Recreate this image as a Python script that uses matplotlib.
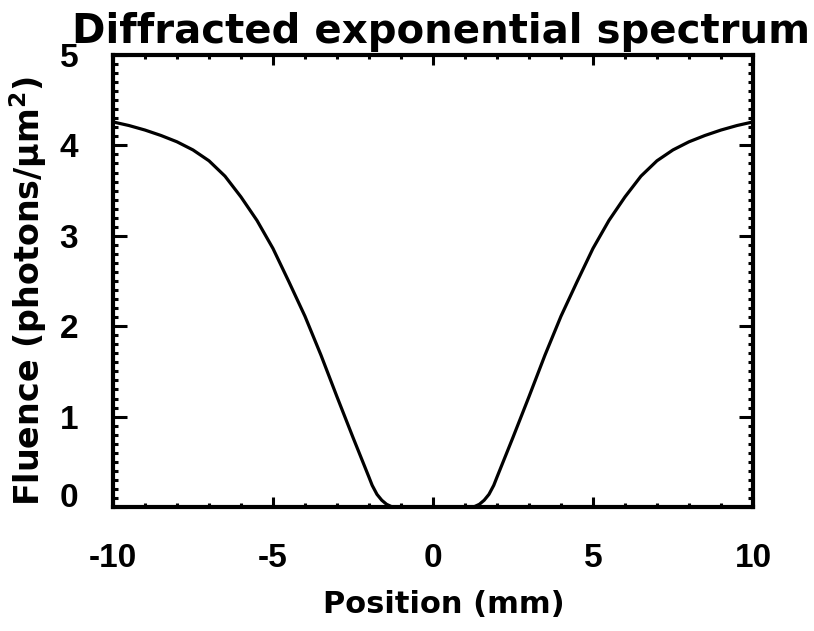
import matplotlib.pyplot as plt
from matplotlib.ticker import MultipleLocator

# Values
position = [-10.0, -9.5, -9.0, -8.5, -8.0, -7.5, -7.0, -6.5, -6.0, -5.5,
            -5.0, -4.5, -4.0, -3.5, -3.0, -2.5, -2.25, -2.0, -1.9, -1.75,
            -1.6, -1.45, -1.3, -1.2, 0.0, 1.2, 1.3, 1.45, 1.6, 1.75,
            1.9, 2.0, 2.25, 2.5, 3.0, 3.5, 4.0, 4.5, 5.0, 5.5,
            6.0, 6.5, 7.0, 7.5, 8.0, 8.5, 9.0, 9.5, 10.0]
fluence = [4.26, 4.22, 4.17, 4.11, 4.04, 3.95, 3.83, 3.66, 3.43, 3.17,
           2.86, 2.49, 2.11, 1.68, 1.22, 0.77, 0.55, 0.33, 0.24, 0.14,
           0.075, 0.03, 0.005, 0.0, 0.0, 0.0, 0.005, 0.03, 0.075, 0.14,
           0.24, 0.33, 0.55, 0.77, 1.22, 1.68, 2.11, 2.49, 2.86, 3.17,
           3.43, 3.66, 3.83, 3.95, 4.04, 4.11, 4.17, 4.22, 4.26]
y_ticks = [0, 1, 2, 3, 4, 5]
x_ticks = [-10, -5, 0, 5, 10]

plt.rcParams['font.family'] = ['DejaVu Sans']
plt.rcParams['font.weight'] = 'bold'
plt.rcParams['axes.unicode_minus'] = False
plt.rcParams['mathtext.default'] = 'bf'

fig = plt.figure(figsize=(8.14, 6.31), dpi=100)
ax = fig.add_axes([0.1388, 0.1965, 0.7862, 0.7163])

ax.plot(position, fluence, color='black', lw=2.3)

ax.set_xlim(-10, 10)
ax.set_ylim(0, 5)
ax.set_xticks(x_ticks)
ax.set_yticks(y_ticks)
ax.xaxis.set_minor_locator(MultipleLocator(1))
ax.yaxis.set_minor_locator(MultipleLocator(0.1))

for s in ax.spines.values():
    s.set_linewidth(3)
ax.tick_params(which='both', direction='in', top=True, right=True, width=2.2)
ax.tick_params(axis='x', which='major', length=7, pad=26)
ax.tick_params(axis='x', which='minor', length=3)
ax.tick_params(axis='y', which='major', length=10, pad=25)
ax.tick_params(axis='y', which='minor', length=3.5)
for lab in ax.get_xticklabels() + ax.get_yticklabels():
    lab.set_fontfamily('Liberation Sans')
    lab.set_fontsize(24)
    lab.set_fontweight('bold')
ax.get_yticklabels()[0].set_va('baseline')

ax.set_xlabel("Position (mm)", fontsize=22, fontweight='bold')
ax.xaxis.set_label_coords(0.517, -0.184)
ax.set_ylabel("Fluence (photons/\u03bcm$^{2}$)", fontsize=24, fontweight='bold')
ax.yaxis.set_label_coords(-0.1, 0.478)
ax.set_title("Diffracted exponential spectrum", fontsize=29, fontweight='bold',
             x=0.5125, pad=9)

plt.savefig("out.png", dpi=100)
plt.close()
